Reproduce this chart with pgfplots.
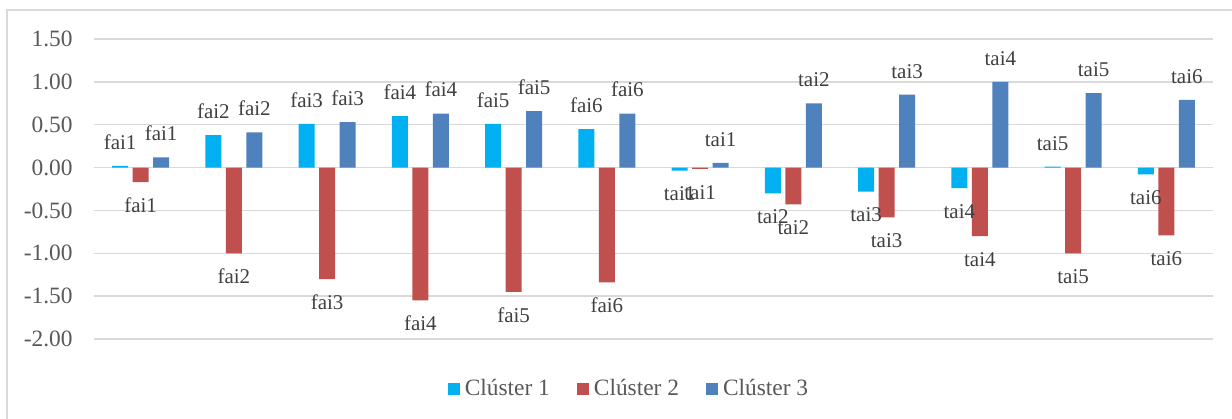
\documentclass[border=0pt]{standalone}
\usepackage{fontspec}
\setmainfont{Liberation Serif}
\usepackage{pgfplots}
\usepackage{pgfplotstable}
\pgfplotsset{compat=1.18}
\definecolor{cA}{HTML}{00B0F0}
\definecolor{cB}{HTML}{C0504D}
\definecolor{cC}{HTML}{4F81BD}
\definecolor{gridc}{HTML}{D9D9D9}
\definecolor{tickc}{HTML}{595959}
\definecolor{labc}{HTML}{404040}

% Cluster 1, positive values
\pgfplotstableread{
x y lab
0 0.02 fai1
1 0.38 fai2
2 0.51 fai3
3 0.60 fai4
4 0.51 fai5
5 0.45 fai6
10 0.01 tai5
}\tApos
% Cluster 1, negative values
\pgfplotstableread{
x y lab
6 -0.035 tai1
7 -0.30 tai2
8 -0.28 tai3
9 -0.24 tai4
11 -0.08 tai6
}\tAneg
\pgfplotstableread{
x y lab
0 -0.17 fai1
1 -1.00 fai2
2 -1.30 fai3
3 -1.55 fai4
4 -1.45 fai5
5 -1.34 fai6
6 -0.015 tai1
7 -0.43 tai2
8 -0.58 tai3
9 -0.80 tai4
10 -1.00 tai5
11 -0.79 tai6
}\tB
\pgfplotstableread{
x y lab
0 0.12 fai1
1 0.41 fai2
2 0.53 fai3
3 0.63 fai4
4 0.66 fai5
5 0.63 fai6
6 0.055 tai1
7 0.75 tai2
8 0.85 tai3
9 1.00 tai4
10 0.87 tai5
11 0.79 tai6
}\tC

\begin{document}
\begin{tikzpicture}
\useasboundingbox (-47pt,-39.5pt) rectangle (569pt,169.5pt);
\draw[gridc, line width=0.75pt] (-43.5pt,-45pt) -- (-43.5pt,164.5pt) -- (575pt,164.5pt);
\begin{axis}[
  scale only axis,
  width=559.5pt, height=150pt,
  xmin=-0.5, xmax=11.5,
  ymin=-2, ymax=1.5,
  ytick={-2,-1.5,-1,-0.5,0,0.5,1,1.5},
  xtick=\empty,
  axis line style={draw=none},
  major tick style={draw=none},
  ymajorgrids,
  major grid style={gridc, line width=0.75pt},
  yticklabel style={font=\fontsize{11.7}{14}\selectfont, color=tickc, anchor=east, inner sep=0pt, xshift=-10.5pt,
    /pgf/number format/.cd, fixed, fixed zerofill, precision=2, assume math mode=true},
  every axis plot/.append style={draw=none},
  nodes near coords,
  point meta=explicit symbolic,
  every node near coord/.append style={font=\fontsize{10.5}{12}\selectfont, color=labc, inner sep=0pt},
  legend columns=3,
  legend style={draw=none, at={(0.4772,-0.1667)}, anchor=center,
    font=\fontsize{11.7}{14}\selectfont, text=tickc,
    nodes={inner sep=0pt},
    /tikz/every odd column/.append style={column sep=2.5pt},
    /tikz/every even column/.append style={column sep=13.5pt}},
  legend image code/.code={\fill[#1] (0pt,-3pt) rectangle (6pt,3pt);},
]
\addplot[ybar, bar width=8pt, bar shift=-10.25pt, fill=cA,
  every node near coord/.append style={anchor=south, xshift=-10.25pt, yshift=8pt}]
  table[x=x,y=y,meta=lab] {\tApos};
\addplot[ybar, bar width=8pt, bar shift=0pt, fill=cB,
  every node near coord/.append style={anchor=south, yshift=-15.4pt}]
  table[x=x,y=y,meta=lab] {\tB};
\addplot[ybar, bar width=8pt, bar shift=10.25pt, fill=cC,
  every node near coord/.append style={anchor=south, xshift=10.25pt, yshift=8pt}]
  table[x=x,y=y,meta=lab] {\tC};
\addplot[ybar, bar width=8pt, bar shift=-10.25pt, fill=cA, forget plot,
  every node near coord/.append style={anchor=south, xshift=-10.25pt, yshift=-15.4pt}]
  table[x=x,y=y,meta=lab] {\tAneg};
\legend{Clúster 1, Clúster 2, Clúster 3}
\end{axis}
\end{tikzpicture}
\end{document}
